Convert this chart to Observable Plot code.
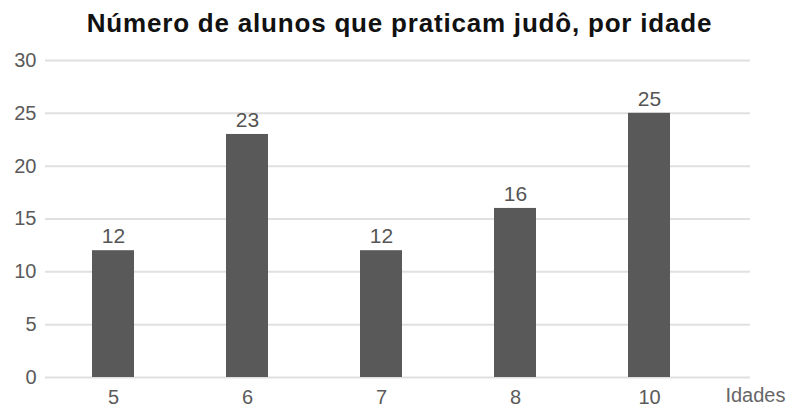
<!DOCTYPE html>
<html><head><meta charset="utf-8">
<script src="https://cdn.jsdelivr.net/npm/d3@7"></script>
<script src="https://cdn.jsdelivr.net/npm/@observablehq/plot@0.6"></script>
<style>
body{margin:0;background:#fff;width:787px;height:409px;overflow:hidden;}
#title{height:46px;line-height:46px;text-align:center;font-family:"Liberation Sans",Arial,sans-serif;font-weight:bold;font-size:26px;letter-spacing:0.8px;color:#111;padding-left:12px;}
</style>
</head><body>
<div id="title">Número de alunos que praticam judô, por idade</div>
<div id="chart"></div>
<script>
const ages = ["5", "6", "7", "8", "10"];
const counts = [12, 23, 12, 16, 25];
const yTicks = [0, 5, 10, 15, 20, 25, 30];
const xLabel = "Idades";

const data = ages.map((a, i) => ({age: a, count: counts[i]}));

const chart = Plot.plot({
  width: 787, height: 363,
  marginLeft: 45, marginRight: 37, marginTop: 14, marginBottom: 32,
  style: {fontFamily: "'Liberation Sans', Arial, sans-serif", fontSize: "20px", color: "#5a5a5a", background: "#fff", overflow: "visible"},
  x: {domain: ages, range: [45, 717], paddingInner: 0.69, paddingOuter: 0.343, label: null, tickSize: 0, tickPadding: 12},
  y: {domain: [0, 30], ticks: yTicks, label: null, tickSize: 0, tickPadding: 9},
  marks: [
    Plot.ruleY(yTicks, {stroke: "#e0e0e0", strokeWidth: 2}),
    Plot.barY(data, {x: "age", y: "count", fill: "#595959"}),
    Plot.text(data, {x: "age", y: "count", text: d => String(d.count), dy: -14, fill: "#555", fontSize: 21}),
    Plot.text([xLabel], {frameAnchor: "bottom-right", dx: 35, dy: 24, textAnchor: "end", fill: "#666", fontSize: 20, letterSpacing: "2px"})
  ]
});
document.getElementById("chart").append(chart);
</script>
</body></html>
